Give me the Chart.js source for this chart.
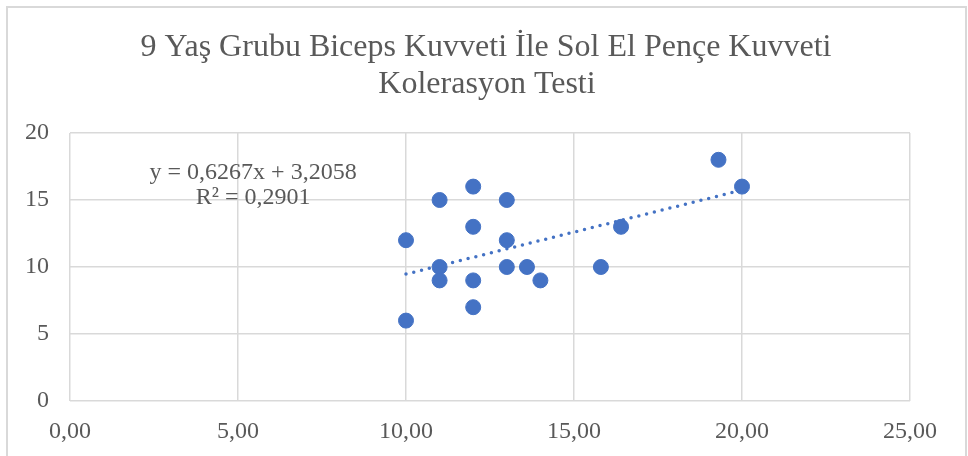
<!DOCTYPE html>
<html>
<head>
<meta charset="utf-8">
<script src="https://cdn.jsdelivr.net/npm/chart.js@4/dist/chart.umd.min.js"></script>
<style>
    html, body { margin: 0; padding: 0; background: #ffffff; }
    #wrap { position: relative; width: 968px; height: 456px; overflow: hidden; }
    #frame { position: absolute; left: 6px; top: 6px; width: 957px; height: 470px; border: 2px solid #d9d9d9; pointer-events: none; }
</style>
</head>
<body>
<div id="wrap">
    <canvas id="scatter-chart" width="968" height="456"></canvas>
    <div id="frame"></div>
</div>
<script>
// values
const bicepsValues = [10, 10, 11, 11, 11, 12, 12, 12, 12, 13, 13, 13, 13.6, 14, 15.8, 16.4, 19.3, 20];
const gripValues = [12, 6, 15, 10, 9, 16, 13, 9, 7, 15, 12, 10, 10, 9, 10, 13, 18, 16];

// linear trendline endpoints (y = 0,6267x + 3,2058)
const trendX = [10, 20];
const trendY = [9.47, 15.74];

const titleLines = ['9 Yaş Grubu Biceps Kuvveti İle Sol El Pençe Kuvveti', 'Kolerasyon Testi'];
const equationLines = ['y = 0,6267x + 3,2058', 'R² = 0,2901'];

const textColor = '#595959';
const gridColor = '#d9d9d9';
const pointColor = '#4472c4';
const serif = "'Liberation Serif', 'Times New Roman', serif";

const toPoints = function(xs, ys){
    let res = [];
    for (let i = 0; i < xs.length; i++) {
        res.push({ x: xs[i], y: ys[i] });
    }
    return res;
}

const textPlugin = {
    id: 'textPlugin',
    afterDraw(chart) {
        let ctx = chart.ctx;
        ctx.save();
        ctx.fillStyle = textColor;
        ctx.textAlign = 'center';
        ctx.textBaseline = 'middle';

        ctx.font = '32px ' + serif;
        ctx.fillText(titleLines[0], 486, 48);
        ctx.fillText(titleLines[1], 487, 85);

        // equation label sits near the top-left of the plot
        let xs = chart.scales.x;
        let ys = chart.scales.y;
        ctx.font = '24px ' + serif;
        ctx.fillText(equationLines[0], xs.getPixelForValue(5.45), ys.getPixelForValue(17.0));
        ctx.fillText(equationLines[1], xs.getPixelForValue(5.45), ys.getPixelForValue(15.15));
        ctx.restore();
    }
};

let ctx = document.getElementById('scatter-chart');

let scatterChart = new Chart(ctx, {
    type: 'scatter',
    data: {
        datasets: [{
            label: 'Doğrusal',
            data: toPoints(trendX, trendY),
            showLine: true,
            borderColor: pointColor,
            borderWidth: 3.5,
            borderDash: [0, 8],
            borderCapStyle: 'round',
            pointRadius: 0,
            order: 0
        }, {
            label: 'Sol El Pençe Kuvveti',
            data: toPoints(bicepsValues, gripValues),
            backgroundColor: pointColor,
            borderColor: pointColor,
            pointRadius: 7.5,
            pointHoverRadius: 7.5,
            order: 1
        }]
    },
    options: {
        responsive: false,
        animation: false,
        layout: {
            padding: { left: 0, right: 58, top: 133, bottom: 0 }
        },
        plugins: {
            legend: { display: false },
            title: { display: false },
            tooltip: { enabled: false }
        },
        scales: {
            x: {
                type: 'linear',
                min: 0,
                max: 25,
                afterFit: function(scale){ scale.height = 55; },
                border: { display: false },
                grid: { color: gridColor, lineWidth: 1.5, drawTicks: false },
                ticks: {
                    stepSize: 5,
                    padding: 16,
                    color: textColor,
                    font: { family: serif, size: 24 },
                    callback: function(value){ return value.toFixed(2).replace('.', ','); }
                }
            },
            y: {
                type: 'linear',
                min: 0,
                max: 20,
                afterFit: function(scale){ scale.width = 70; },
                border: { display: false },
                grid: { color: gridColor, lineWidth: 1.5, drawTicks: false },
                ticks: {
                    stepSize: 5,
                    padding: 21,
                    color: textColor,
                    font: { family: serif, size: 24 }
                }
            }
        }
    },
    plugins: [textPlugin]
});
</script>
</body>
</html>
